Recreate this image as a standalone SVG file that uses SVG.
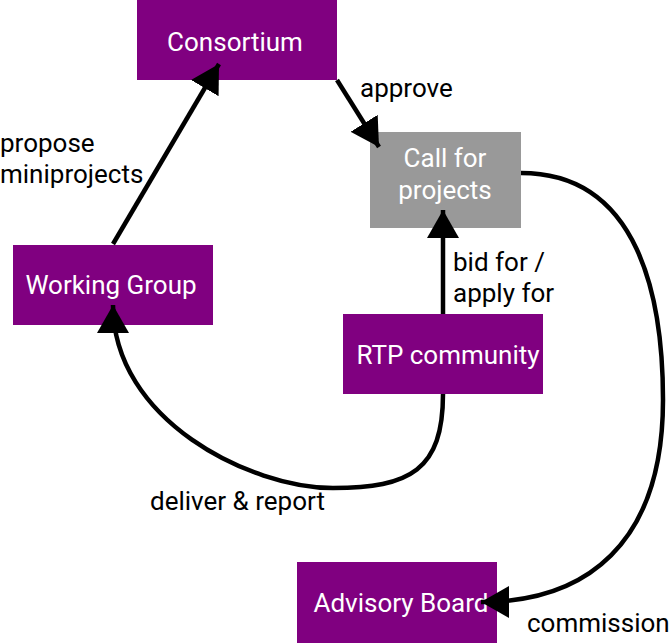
<svg xmlns="http://www.w3.org/2000/svg" width="669" height="643" viewBox="0 0 669 643">
<defs>
<style>
.node{fill:#800080}
.gray{fill:#999999}
.nt{font-family:Roboto,"Liberation Sans",sans-serif;font-size:26px;fill:#ffffff;text-anchor:middle}
.lbl{font-family:Roboto,"Liberation Sans",sans-serif;font-size:26px;fill:#000000}
.edge{fill:none;stroke:#000000;stroke-width:4.5;marker-end:url(#arr)}
</style>
<marker id="arr" markerUnits="userSpaceOnUse" viewBox="0 0 28 32" refX="28" refY="16" markerWidth="28" markerHeight="32" orient="auto">
<path d="M0,0 L28,16 L0,32 Z" fill="#000000"/>
</marker>
</defs>
<g id="consortium">
<rect class="node" x="137" y="0" width="200" height="80"/>
<text class="nt" x="235" y="51">Consortium</text>
</g>
<g id="call">
<rect class="gray" x="370" y="132" width="151" height="96"/>
<text class="nt" x="445" y="167">Call for</text>
<text class="nt" x="445" y="199">projects</text>
</g>
<g id="working">
<rect class="node" x="13" y="245" width="200" height="80"/>
<text class="nt" x="111" y="294">Working Group</text>
</g>
<g id="rtp">
<rect class="node" x="343" y="314" width="200" height="80"/>
<text class="nt" x="448" y="364">RTP community</text>
</g>
<g id="advisory">
<rect class="node" x="297" y="562" width="200" height="81"/>
<text class="nt" x="401" y="612">Advisory Board</text>
</g>
<g id="connectors">
<path class="edge" d="M113,244 L219,64"/>
<path class="edge" d="M337,80 L379,147"/>
<path class="edge" d="M443,314 L443,210"/>
<path class="edge" d="M443,394 C443,470 410,488 333,488 C250,488 113,420 113,305"/>
<path class="edge" d="M521,173 C640,173 663,300 663,400 C663,545 585,602 481,602"/>
</g>
<g id="labels">
<text class="lbl" x="360" y="97">approve</text>
<text class="lbl" x="0" y="152">propose</text>
<text class="lbl" x="0" y="183">miniprojects</text>
<text class="lbl" x="453" y="271">bid for /</text>
<text class="lbl" x="453" y="302">apply for</text>
<text class="lbl" x="150" y="510">deliver &amp; report</text>
<text class="lbl" x="527" y="632">commission</text>
</g>
</svg>
